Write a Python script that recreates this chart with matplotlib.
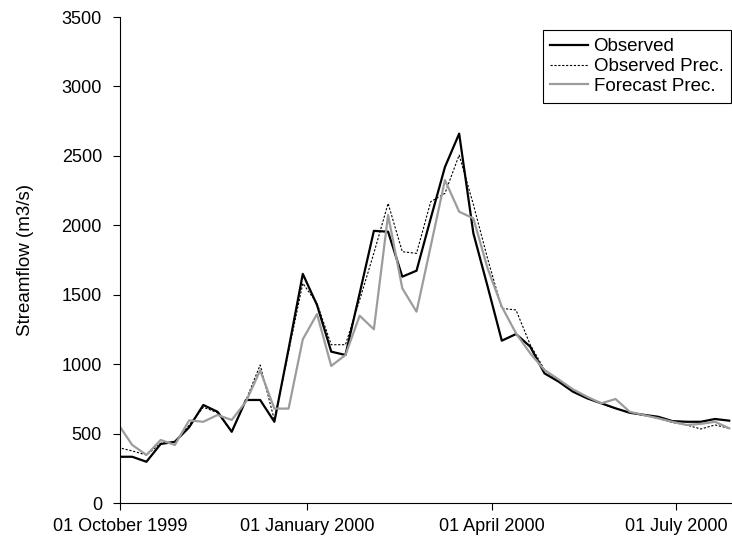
import datetime as dt
import matplotlib
matplotlib.use("Agg")
import matplotlib.pyplot as plt
import matplotlib.dates as mdates

# weekly values, first week starts 30 Sep 1999
start = dt.date(1999, 9, 30)
observed = [333, 333, 297, 425, 441, 545, 706, 657, 513, 742, 742, 585, 1110, 1650,
            1426, 1090, 1066, 1510, 1960, 1954, 1630, 1673, 2050, 2420, 2660, 1942,
            1560, 1169, 1217, 1126, 934, 874, 802, 754, 718, 682, 650, 635, 621, 590,
            585, 585, 605, 593]
observed_prec = [400, 375, 346, 430, 441, 560, 690, 650, 513, 740, 994, 598, 1090, 1582,
                 1438, 1140, 1140, 1462, 1800, 2158, 1810, 1798, 2170, 2230, 2506, 2150,
                 1760, 1402, 1390, 1140, 960, 880, 810, 760, 718, 680, 650, 630, 610, 580,
                 562, 533, 562, 538]
forecast_prec = [570, 418, 346, 454, 418, 595, 585, 634, 598, 730, 955, 680, 680, 1179,
                 1361, 987, 1066, 1349, 1251, 2074, 1546, 1378, 1850, 2326, 2098, 2050,
                 1690, 1414, 1222, 1078, 958, 890, 819, 765, 718, 749, 657, 633, 610, 585,
                 562, 570, 585, 538]
dates = [start + dt.timedelta(days=7 * i) for i in range(len(observed))]

tick_dates = [dt.date(1999, 10, 1), dt.date(2000, 1, 1), dt.date(2000, 4, 1), dt.date(2000, 7, 1)]

plt.rcParams['font.family'] = ['Liberation Sans', 'DejaVu Sans']
plt.rcParams.update({'font.size': 13})

fig = plt.figure(figsize=(7.32, 5.37), dpi=100)
ax = fig.add_axes([0.164, 0.0633, 0.835, 0.905])

ax.plot(dates, observed, color='black', linewidth=1.6, label='Observed')
ax.plot(dates, observed_prec, color='black', linewidth=0.8, linestyle=(0, (2, 1.5)), label='Observed Prec.')
ax.plot(dates, forecast_prec, color='#9c9c9c', linewidth=1.6, label='Forecast Prec.')

ax.set_xlim(dt.date(1999, 10, 1), dt.date(2000, 7, 28))
ax.set_ylim(0, 3500)
ax.set_yticks(range(0, 3501, 500))
ax.set_xticks(tick_dates)
ax.xaxis.set_major_formatter(mdates.DateFormatter('%d %B %Y'))
ax.set_ylabel('Streamflow (m3/s)', fontsize=13.5, labelpad=20)

ax.spines['top'].set_visible(False)
ax.spines['right'].set_visible(False)
ax.spines['left'].set_linewidth(0.8)
ax.spines['bottom'].set_linewidth(0.8)
ax.tick_params(direction='out', length=5, width=0.8, colors='black')
ax.tick_params(axis='y', pad=8)
ax.tick_params(axis='x', pad=6)

leg = ax.legend(loc='upper right', bbox_to_anchor=(1.0, 0.973), borderaxespad=0,
                fancybox=False, edgecolor='black', framealpha=1, handlelength=2.0,
                borderpad=0.42, labelspacing=0.15, handletextpad=0.3, fontsize=13.5)
leg.get_frame().set_linewidth(0.8)

fig.savefig('out.png', dpi=100)
